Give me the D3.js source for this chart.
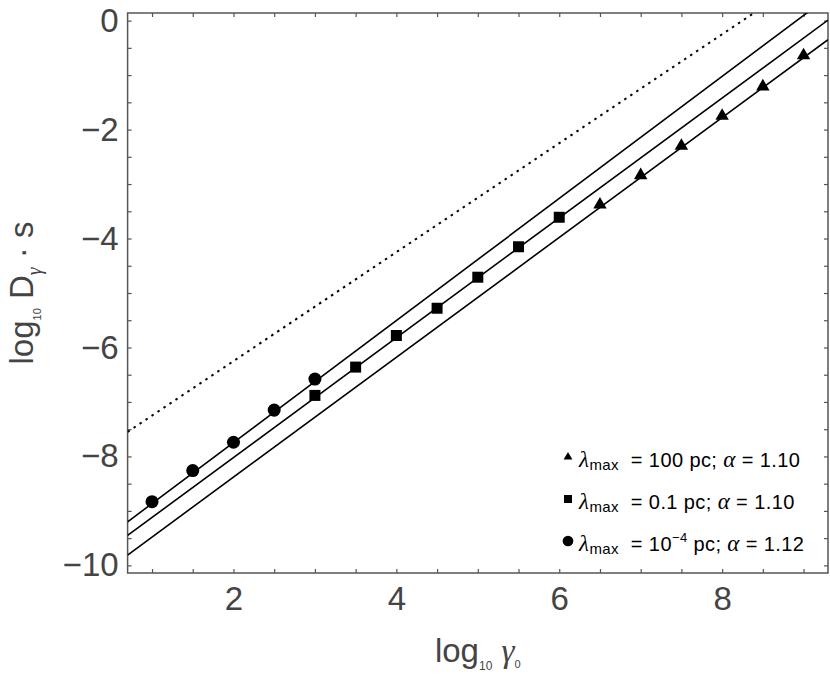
<!DOCTYPE html>
<html>
<head>
<meta charset="utf-8">
<script src="https://cdn.jsdelivr.net/npm/d3@7"></script>
<style>
body { margin: 0; background: #fff; }
svg { display: block; }
</style>
</head>
<body>
<script>
var w = 830;
var h = 677;

// data
var circleX = [1, 1.5, 2, 2.5, 3];
var circleY = [-8.83, -8.26, -7.74, -7.15, -6.58];
var squareX = [3, 3.5, 4, 4.5, 5, 5.5, 6];
var squareY = [-6.88, -6.36, -5.78, -5.28, -4.71, -4.15, -3.61];
var triangleX = [6.5, 7, 7.5, 8, 8.5, 9];
var triangleY = [-3.38, -2.84, -2.30, -1.75, -1.21, -0.64];

// fitted lines: log D = slope * log gamma + intercept
var fitSlope = [1.12, 1.10, 1.10, 1.00];
var fitIntercept = [-9.985, -10.22, -10.58, -8.25];

var xMajor = [2, 4, 6, 8];
var yMajor = [0, -2, -4, -6, -8, -10];

var margin = {top: 13, right: 2, bottom: 104, left: 127.6};

var x = d3.scaleLinear().domain([0.7, 9.3]).range([margin.left, w - margin.right]);
var y = d3.scaleLinear().domain([-10.14, 0.14]).range([h - margin.bottom, margin.top]);

var xMinor = d3.range(1, 9.3, 0.5);
var yMinor = d3.range(-10, 0.01, 0.5);

var svg = d3.select("body").append("svg")
    .attr("width", w)
    .attr("height", h);

svg.append("clipPath").attr("id", "plotclip")
  .append("rect")
    .attr("x", x.range()[0])
    .attr("y", y.range()[1])
    .attr("width", x.range()[1] - x.range()[0])
    .attr("height", y.range()[0] - y.range()[1]);

var axisColour = "#555";
var textColour = "#444";

// ticks on all four sides, pointing in
function styleAxis(g) {
    g.select(".domain").remove();
    g.selectAll(".tick line").attr("stroke", axisColour).attr("stroke-width", 1.2);
    g.selectAll(".tick text")
        .attr("fill", textColour)
        .style("font-family", "'Liberation Sans', Arial, sans-serif")
        .style("font-size", "33px");
}

svg.append("g")
    .attr("transform", "translate(0," + y.range()[0] + ")")
    .call(d3.axisBottom(x).tickValues(xMinor).tickSize(-4).tickFormat(function(d){ return xMajor.indexOf(d) >= 0 ? d : ""; }).tickPadding(14))
    .call(styleAxis);

svg.append("g")
    .attr("transform", "translate(0," + y.range()[1] + ")")
    .call(d3.axisTop(x).tickValues(xMinor).tickSize(-4).tickFormat(""))
    .call(styleAxis);

svg.append("g")
    .attr("transform", "translate(" + x.range()[0] + ",0)")
    .call(d3.axisLeft(y).tickValues(yMinor).tickSize(-4).tickFormat(function(d){ return yMajor.indexOf(d) >= 0 ? d3.format("d")(d) : ""; }).tickPadding(9))
    .call(styleAxis);

svg.append("g")
    .attr("transform", "translate(" + x.range()[1] + ",0)")
    .call(d3.axisRight(y).tickValues(yMinor).tickSize(-4).tickFormat(""))
    .call(styleAxis);

// frame
svg.append("rect")
    .attr("x", x.range()[0])
    .attr("y", y.range()[1])
    .attr("width", x.range()[1] - x.range()[0])
    .attr("height", y.range()[0] - y.range()[1])
    .attr("fill", "none")
    .attr("stroke", axisColour)
    .attr("stroke-width", 1.5);

// fit lines
var plot = svg.append("g").attr("clip-path", "url(#plotclip)");

var fits = fitSlope.map(function(s, i){ return {slope: s, intercept: fitIntercept[i], dotted: i == 3}; });
var line = d3.line().x(function(d){ return x(d[0]); }).y(function(d){ return y(d[1]); });

plot.selectAll(".fit")
    .data(fits)
    .enter()
    .append("path")
    .attr("class", "fit")
    .attr("d", function(d){
        return line(x.domain().map(function(v){ return [v, d.slope * v + d.intercept]; }));
    })
    .attr("fill", "none")
    .attr("stroke", "#000")
    .attr("stroke-width", function(d){ return d.dotted ? 2 : 1.6; })
    .attr("stroke-dasharray", function(d){ return d.dotted ? "2.5,4.7" : null; });

// markers
function drawMarkers(xs, ys, type, size) {
    var sym = d3.symbol().type(type).size(size);
    plot.selectAll(null)
        .data(xs.map(function(v, i){ return [v, ys[i]]; }))
        .enter()
        .append("path")
        .attr("d", sym)
        .attr("transform", function(d){ return "translate(" + x(d[0]) + "," + y(d[1]) + ")"; })
        .attr("fill", "#000");
}
drawMarkers(circleX, circleY, d3.symbolCircle, 133);
drawMarkers(squareX, squareY, d3.symbolSquare, 121);
drawMarkers(triangleX, triangleY, d3.symbolTriangle, 78);

// legend
var sans = "'Liberation Sans', Arial, sans-serif";
var serif = "'Liberation Serif', 'Times New Roman', serif";
var legendRows = [
    {type: d3.symbolTriangle, size: 34, value: ["100"], sup: null, alpha: "1.10"},
    {type: d3.symbolSquare, size: 64, value: ["0.1"], sup: null, alpha: "1.10"},
    {type: d3.symbolCircle, size: 90, value: ["10"], sup: "\u22124", alpha: "1.12"}
];

var legend = svg.append("g");
legendRows.forEach(function(r, i){
    var by = 467 + i * 42;
    legend.append("path")
        .attr("d", d3.symbol().type(r.type).size(r.size))
        .attr("transform", "translate(568," + (by - 10) + ")")
        .attr("fill", "#000");
    var t = legend.append("text")
        .attr("x", 579)
        .attr("y", by)
        .attr("fill", "#000")
        .style("font-family", sans)
        .style("font-size", "20px")
        .style("letter-spacing", "0.4px");
    t.append("tspan").style("font-family", serif).style("font-style", "italic").style("font-size", "23px").text("\u03bb");
    t.append("tspan").attr("dy", 3).style("font-size", "15px").text("max");
    t.append("tspan").attr("dy", -3).text("\u00a0 = " + r.value[0]);
    if (r.sup) {
        t.append("tspan").attr("dy", -9).style("font-size", "13px").text(r.sup);
        t.append("tspan").attr("dy", 9).text("\u00a0pc; ");
    } else {
        t.append("tspan").text(" pc; ");
    }
    t.append("tspan").style("font-family", serif).style("font-style", "italic").style("font-size", "23px").text("\u03b1");
    t.append("tspan").text(" = " + r.alpha);
});

// axis titles
var xt = svg.append("text")
    .attr("x", (x.range()[0] + x.range()[1]) / 2)
    .attr("y", 662)
    .attr("text-anchor", "middle")
    .attr("fill", textColour)
    .style("font-family", sans)
    .style("font-size", "33px");
xt.append("tspan").text("log");
xt.append("tspan").attr("dy", 8).style("font-size", "12px").text("10");
xt.append("tspan").attr("dy", -8).text("\u00a0");
xt.append("tspan").style("font-family", serif).style("font-style", "italic").text("\u03b3");
xt.append("tspan").attr("dy", 6).style("font-size", "11px").text("0");

var yt = svg.append("text")
    .attr("transform", "translate(33," + ((y.range()[0] + y.range()[1]) / 2) + ") rotate(-90)")
    .attr("text-anchor", "middle")
    .attr("fill", textColour)
    .style("font-family", sans)
    .style("font-size", "33px");
yt.append("tspan").text("log");
yt.append("tspan").attr("dy", 8).style("font-size", "11px").text("10");
yt.append("tspan").attr("dy", -8).text(" D");
yt.append("tspan").attr("dy", 8).style("font-family", serif).style("font-style", "italic").style("font-size", "20px").text("\u03b3");
yt.append("tspan").attr("dy", -8).text(" \u00b7 s");
</script>
</body>
</html>
